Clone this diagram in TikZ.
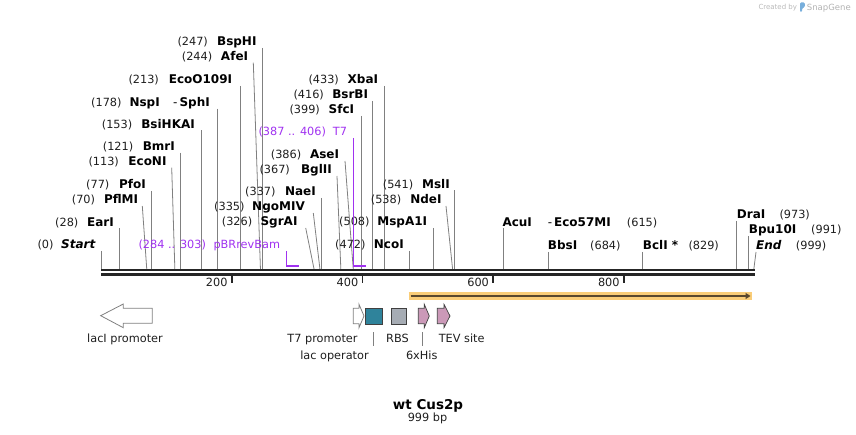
\documentclass[tikz,border=0pt]{standalone}
\usepackage{fontspec}
\setmainfont{DejaVu Sans}
\usetikzlibrary{arrows.meta}
\definecolor{siteg}{RGB}{128,128,128}
\definecolor{featp}{RGB}{160,50,240}
\definecolor{orfhl}{RGB}{250,205,120}
\definecolor{orfln}{RGB}{90,72,45}
\definecolor{tealf}{RGB}{47,131,155}
\definecolor{rbsg}{RGB}{166,172,180}
\definecolor{pinkf}{RGB}{203,153,184}
\definecolor{outl}{RGB}{64,64,64}
\definecolor{credg}{RGB}{185,185,185}
\definecolor{snapb}{RGB}{120,175,220}
\definecolor{txt}{RGB}{30,30,30}

\newcommand\Lsite[8]{%
  \node[lab,anchor=base west] (n#1) at (#3,#6+4) {(#2)};
  \node[labb,anchor=base east] (m#1) at (#5,#6+4) {#4};
  \coordinate (t#1) at (#7,#6+6);
  \coordinate (s#1) at ({bx(#8)},269);
  \draw[siteline] (t#1) -- (s#1);
}
\newcommand\Rsite[8]{%
  \node[labb,anchor=base west] (m#1) at (#3,#6+4) {#2};
  \node[lab,anchor=base west] (n#1) at (#5,#6+4) {(#4)};
  \coordinate (t#1) at (#7,#6+6);
  \coordinate (s#1) at ({bx(#8)},269);
  \draw[siteline] (t#1) -- (s#1);
}

\begin{document}
\begin{tikzpicture}[x=1pt,y=-1pt,
  declare function={bx(\b)=101+0.6535*\b;},
  lab/.style={inner sep=0pt, font=\fontsize{11.3}{13}\selectfont, text=txt},
  labb/.style={inner sep=0pt, font=\fontsize{12}{14}\selectfont\bfseries, text=black},
  siteline/.style={draw=siteg, line width=0.8pt},
  featlab/.style={lab, text=featp},
  featmark/.style={draw=featp, line width=1pt},
  featbar/.style={draw=featp, line width=2pt},
  ruler/.style={line width=2.4pt, draw=black!85},
  tickm/.style={line width=1.8pt, draw=black!85},
  fshape/.style={draw=outl, line width=0.7pt},
  wshape/.style={draw=siteg, line width=0.8pt, fill=white},
]
\useasboundingbox (0,0) rectangle (856,435);

% ---- left-side sites
\Lsite{Start}{0}{37.3}{\itshape Start}{95.5}{245}{101}{0}
\Lsite{EarI}{28}{55}{EarI}{114}{222.3}{{bx(28)}}{28}
\Lsite{PflMI}{70}{71.7}{PflMI}{138.3}{200}{142.3}{70}
\Lsite{PfoI}{77}{86}{PfoI}{146}{185}{{bx(77)}}{77}
\Lsite{EcoNI}{113}{88.3}{EcoNI}{166.7}{161.7}{171.7}{113}
\Lsite{BmrI}{121}{102.7}{BmrI}{175}{146.7}{{bx(121)}}{121}
\Lsite{BsiHKAI}{153}{101.7}{BsiHKAI}{195}{124.3}{{bx(153)}}{153}
\Lsite{NspI}{178}{91}{{\mdseries -}\,SphI}{210}{102.7}{{bx(178)}}{178}
\node[labb,anchor=base west] (mNspIa) at (129.3,106.7) {NspI};
\Lsite{EcoO}{213}{128.3}{EcoO109I}{232.3}{80}{{bx(213)}}{213}
\Lsite{AfeI}{244}{181.7}{AfeI}{248.3}{56.7}{253.3}{244}
\Lsite{BspHI}{247}{177.3}{BspHI}{256.7}{42}{{bx(247)}}{247}
\Lsite{SgrAI}{326}{221.7}{SgrAI}{297.7}{222}{305.7}{326}
\Lsite{NgoMIV}{335}{214}{NgoMIV}{305}{207}{313.3}{335}
\Lsite{NaeI}{337}{245}{NaeI}{316}{192}{{bx(337)}}{337}
\Lsite{BglII}{367}{259.3}{BglII}{332}{170}{337}{367}
\Lsite{AseI}{386}{270.7}{AseI}{339.3}{155}{345}{386}
\Lsite{SfcI}{399}{289.3}{SfcI}{354.3}{110}{{bx(399)}}{399}
\Lsite{BsrBI}{416}{293.3}{BsrBI}{368.3}{95}{{bx(416)}}{416}
\Lsite{XbaI}{433}{308.3}{XbaI}{378.3}{80}{{bx(433)}}{433}
\Lsite{NcoI}{472}{335}{NcoI}{404}{245}{{bx(472)}}{472}
\Lsite{MspA}{508}{339}{MspA1I}{427.3}{222}{{bx(508)}}{508}
\Lsite{NdeI}{538}{370.7}{NdeI}{441.7}{200}{446}{538}
\Lsite{MslI}{541}{382.7}{MslI}{450}{184.3}{{bx(541)}}{541}

% ---- right-side sites
\Rsite{AcuI}{AcuI}{502.3}{615}{626.7}{222.3}{{bx(615)}}{615}
\node[labb,anchor=base east] (mEco57) at (611,226.3) {{\mdseries -}\,Eco57MI};
\Rsite{BbsI}{BbsI}{547.7}{684}{590}{246}{{bx(684)}}{684}
\Rsite{BclI}{BclI *}{642.7}{829}{688.3}{246}{{bx(829)}}{829}
\Rsite{DraI}{DraI}{736.7}{973}{779.3}{215}{{bx(973)}}{973}
\Rsite{Bpu}{Bpu10I}{748.7}{991}{811}{230}{{bx(991)}}{991}
\Rsite{End}{\itshape End}{756}{999}{795.7}{246}{756}{999}

% ---- primer-like features
\node[featlab,anchor=base west] (fpBRn) at (138.3,249) {(284 .. 303)};
\node[featlab,anchor=base west] (fpBR) at (213.3,249) {pBRrevBam};
\coordinate (pA) at ({bx(284)},251);
\coordinate (pB) at ({bx(284)},266);
\coordinate (pB2) at ({bx(284)-0.5},266);
\coordinate (pC) at ({bx(303)},266);
\draw[featmark] (pA) -- (pB);
\draw[featbar] (pB2) -- (pC);

\node[featlab,anchor=base west] (fT7n) at (258.3,135.7) {(387 .. 406)};
\node[featlab,anchor=base west] (fT7) at (332.7,135.7) {T7};
\coordinate (qA) at ({bx(387)},138);
\coordinate (qB) at ({bx(387)},266);
\coordinate (qB2) at ({bx(387)-0.5},266);
\coordinate (qC) at ({bx(406)},266);
\draw[featmark] (qA) -- (qB);
\draw[featbar] (qB2) -- (qC);

% ---- ruler
\coordinate (r0) at ({bx(0)},270);
\coordinate (r1) at ({bx(999)+1},270);
\coordinate (r2) at ({bx(0)},274.5);
\coordinate (r3) at ({bx(999)+1},274.5);
\draw[ruler] (r0) -- (r1);
\draw[ruler] (r2) -- (r3);
\foreach \t in {200,400,600,800}{
  \coordinate (tka\t) at ({bx(\t)},275.5);
  \coordinate (tkb\t) at ({bx(\t)},283);
  \draw[tickm] (tka\t) -- (tkb\t);
  \node[lab,anchor=east] (tkl\t) at ({bx(\t)-4},282.5) {\t};
}

% ---- ORF
\coordinate (oA) at (408.5,296);
\coordinate (oB) at (751.5,296);
\coordinate (oC) at (410.5,296);
\coordinate (oD) at (750.5,296);
\draw[line width=7.5pt, draw=orfhl] (oA) -- (oB);
\draw[line width=1.6pt, draw=orfln, -{Triangle[length=5pt,width=6pt]}] (oC) -- (oD);

% ---- features row
\draw[wshape] (100.7,315.7) -- (123.3,304) -- (123.3,308.3) -- (152.3,308.3)
  -- (152.3,323.3) -- (123.3,323.3) -- (123.3,327.7) -- cycle;
\draw[wshape] (353.3,308.3) -- (359,308.3) -- (359,304.3) -- (364,316)
  -- (359,327.7) -- (359,323.7) -- (353.3,323.7) -- cycle;
\draw[fshape, fill=tealf] (365.7,308.3) rectangle (382.7,324.3);
\draw[fshape, fill=rbsg] (391,308.3) rectangle (406.7,324.3);
\draw[fshape, fill=pinkf] (418.3,308.3) -- (424.3,308.3) -- (424.3,304.3) -- (429.3,316)
  -- (424.3,327.7) -- (424.3,323.7) -- (418.3,323.7) -- cycle;
\draw[fshape, fill=pinkf] (437.3,308.3) -- (444,308.3) -- (444,304.3) -- (450,316)
  -- (444,327.7) -- (444,323.7) -- (437.3,323.7) -- cycle;

\node[lab,anchor=base] (flacI) at (125,342) {lacI promoter};
\node[lab,anchor=base] (fT7p) at (322.5,342) {T7 promoter};
\node[lab,anchor=base] (fRBS) at (397.5,342) {RBS};
\node[lab,anchor=base] (fTEV) at (461.7,342) {TEV site};
\node[lab,anchor=base] (flacO) at (334.5,359) {lac operator};
\node[lab,anchor=base] (fHis) at (421.7,359) {6xHis};
\coordinate (cLo1) at (373.3,332);
\coordinate (cLo2) at (373.3,346);
\coordinate (cHi1) at (422.7,332);
\coordinate (cHi2) at (422.7,346);
\draw[siteline, line width=0.7pt] (cLo1) -- (cLo2);
\draw[siteline, line width=0.7pt] (cHi1) -- (cHi2);

% ---- title
\node[anchor=base, inner sep=0pt, font=\fontsize{13.5}{16}\selectfont\bfseries] (title) at (428,409) {wt Cus2p};
\node[lab,anchor=base] (bplen) at (427.5,421.3) {999 bp};

% ---- credit
\node[anchor=base west, inner sep=0pt, font=\fontsize{7}{8}\selectfont, text=credg] (cby) at (758.3,10) {Created by};
\fill[snapb, rounded corners=1.2pt] (800,2.5) -- (804.8,2.5) -- (804.8,7.2) -- (802,8.2) -- (802,12) -- (800,12) -- cycle;
\node[anchor=base west, inner sep=0pt, font=\fontsize{8.5}{9}\selectfont, text=credg!110] (snapg) at (806.7,10.5) {SnapGene};
\end{tikzpicture}
\end{document}
